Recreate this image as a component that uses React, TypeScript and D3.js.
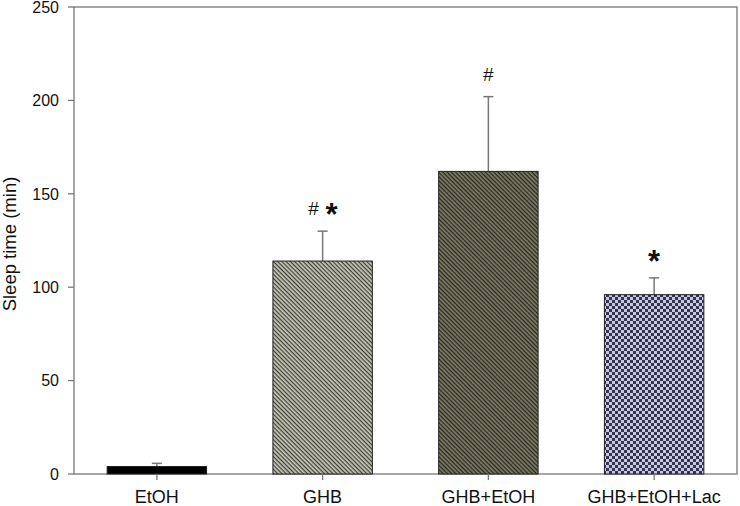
import React from 'react';
import * as d3 from 'd3';

const groups = ['EtOH', 'GHB', 'GHB+EtOH', 'GHB+EtOH+Lac'];
const means = [4, 114, 162, 96];
const errors = [1.7, 16, 40, 9];
const marks = ['', '# *', '#', '*'];
const yTicks = [0, 50, 100, 150, 200, 250];

const width = 740;
const height = 506;
const left = 74;
const right = 737;
const top = 7;
const bottom = 474;

const fills = ['#000', 'url(#stripeLight)', 'url(#stripeDark)', 'url(#checker)'];

export default function App() {
  const x = d3.scaleBand().domain(groups).range([left, right]).paddingInner(0.4).paddingOuter(0.2);
  const y = d3.scaleLinear().domain([0, 250]).range([bottom, top]);
  const bw = x.bandwidth();
  const axisColor = '#777';

  return (
    <svg width={width} height={height} style={{ position: 'absolute', left: 0, top: 0 }}
      fontFamily="Arial, Liberation Sans, sans-serif">
      <defs>
        <pattern id="stripeLight" width="3" height="3" patternUnits="userSpaceOnUse" patternTransform="rotate(45)">
          <rect width="3" height="3" fill="#c6c6b6" />
          <rect width="3" height="1.2" fill="#3e3e38" />
        </pattern>
        <pattern id="stripeDark" width="3" height="3" patternUnits="userSpaceOnUse" patternTransform="rotate(45)">
          <rect width="3" height="3" fill="#7c7c64" />
          <rect width="3" height="1.2" fill="#262620" />
        </pattern>
        <pattern id="checker" width="6" height="6" patternUnits="userSpaceOnUse">
          <rect width="6" height="6" fill="#c8c8e2" />
          <rect width="3" height="3" fill="#34344e" />
          <rect x="3" y="3" width="3" height="3" fill="#34344e" />
        </pattern>
      </defs>

      {/* frame */}
      <rect x={left} y={top} width={right - left} height={bottom - top} fill="none" stroke={axisColor} strokeWidth={1.3} />

      {/* y ticks */}
      {yTicks.map(t => (
        <g key={t}>
          <line x1={left - 6} x2={left} y1={y(t)} y2={y(t)} stroke={axisColor} strokeWidth={1.3} />
          <text x={left - 15} y={Math.max(y(t), 7.5)} dy="0.36em" textAnchor="end" fontSize={16} fill="#111">{t}</text>
        </g>
      ))}

      {/* bars */}
      {groups.map((g, i) => {
        const bx = x(g)!;
        const cx = bx + bw / 2;
        const et = y(means[i] + errors[i]);
        return (
          <g key={g}>
            <line x1={cx} x2={cx} y1={y(means[i])} y2={et} stroke="#777" strokeWidth={1.5} />
            <line x1={cx - 5} x2={cx + 5} y1={et} y2={et} stroke="#777" strokeWidth={1.5} />
            <rect x={bx} y={y(means[i])} width={bw} height={bottom - y(means[i])} fill={fills[i]} stroke="#222" strokeWidth={1} />
            <line x1={cx} x2={cx} y1={bottom} y2={bottom + 6} stroke={axisColor} strokeWidth={1.3} />
            <text x={cx} y={bottom + 29} textAnchor="middle" fontSize={18} fill="#111">{g}</text>
          </g>
        );
      })}

      {/* significance marks */}
      {groups.map((g, i) => {
        const cx = x(g)! + bw / 2;
        const ty = y(means[i] + errors[i]) - 16;
        if (marks[i] === '# *') {
          return (
            <g key={'m' + g}>
              <text x={cx - 9} y={ty} textAnchor="middle" fontSize={19} fill="#111">#</text>
              <text x={cx + 9} y={ty + 10} textAnchor="middle" fontSize={31} fontWeight="bold" fill="#111">*</text>
            </g>
          );
        }
        if (marks[i] === '*') {
          return <text key={'m' + g} x={cx} y={ty + 10} textAnchor="middle" fontSize={31} fontWeight="bold" fill="#111">*</text>;
        }
        if (marks[i] === '#') {
          return <text key={'m' + g} x={cx} y={ty} textAnchor="middle" fontSize={19} fill="#111">#</text>;
        }
        return null;
      })}

      {/* y label */}
      <text transform={`translate(16, 244) rotate(-90)`} textAnchor="middle" fontSize={18.5} fill="#111">
        Sleep time (min)
      </text>
    </svg>
  );
}
